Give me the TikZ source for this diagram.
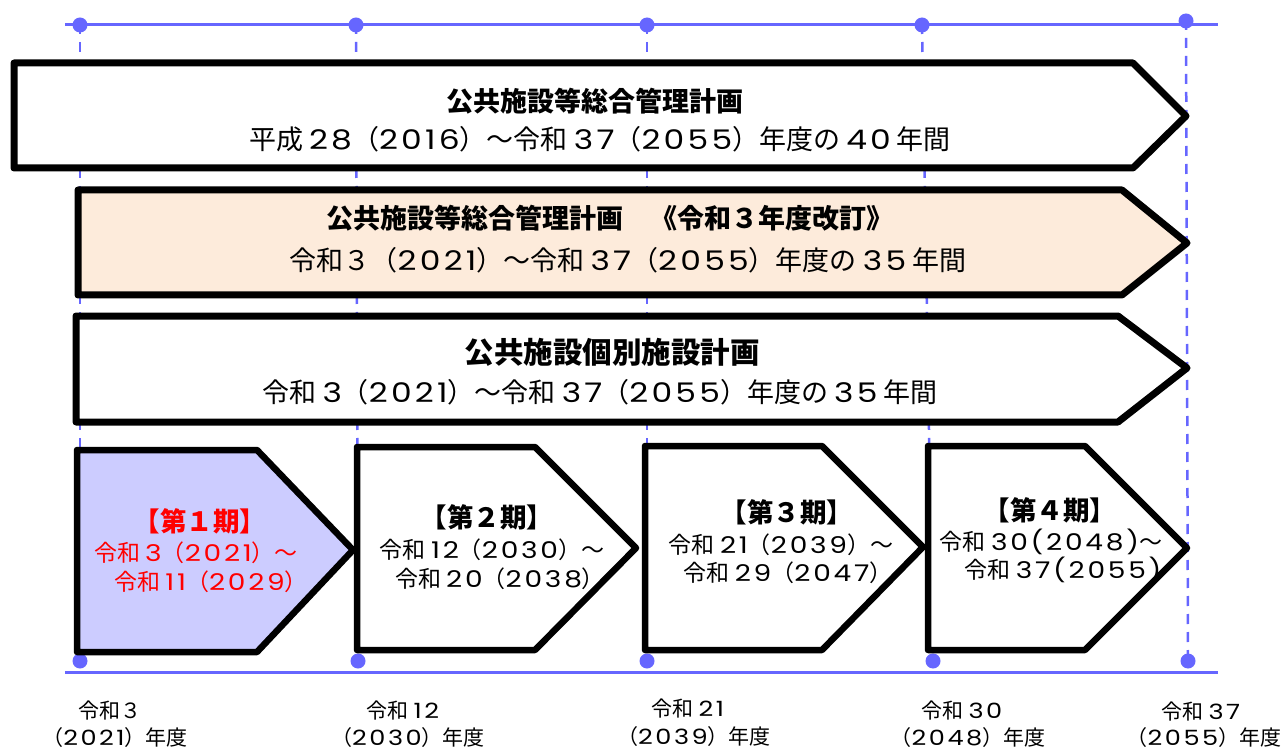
\documentclass[tikz,border=0pt]{standalone}
\usepackage{fontspec}
\setmainfont{Noto Sans CJK JP}
\newfontfamily\numfont[FakeStretch=1.22, LetterSpace=12]{Poppins}
\newcommand\nm[1]{{\numfont #1}}
\definecolor{tlblue}{HTML}{6666FF}
\definecolor{peach}{HTML}{FDEBDB}
\definecolor{lav}{HTML}{CCCCFF}
\definecolor{redtxt}{HTML}{FF0000}
\tikzset{
  bigbox/.style={draw=black, line width=7pt, line join=round, fill=white},
  phasebox/.style={draw=black, line width=6.5pt, line join=round, fill=white},
  tline/.style={draw=tlblue, line width=3pt},
  guide/.style={draw=tlblue, line width=2.5pt, dash pattern=on 10pt off 8pt, dash phase=-17pt},
  dot/.style={fill=tlblue},
  btitle/.style={inner sep=0pt, font=\fontsize{27}{30}\selectfont\bfseries},
  bline/.style={inner sep=0pt, font=\fontsize{27}{30}\selectfont},
  ptitle/.style={inner sep=0pt, font=\fontsize{26.5}{29}\selectfont\bfseries},
  pline/.style={inner sep=0pt, font=\fontsize{23}{26}\selectfont},
  ylabel/.style={inner sep=0pt, font=\fontsize{21}{24}\selectfont},
}
\begin{document}
\begin{tikzpicture}[x=1pt, y=-1pt]
\useasboundingbox (0,0) rectangle (1282,751);
% guide lines
\draw[guide] (80,25) -- (80,661);
\draw[guide] (356,25) -- (358,661);
\draw[guide] (647,25) -- (647,661);
\draw[guide] (922,25) -- (933,661);
\draw[guide] (1186,21) -- (1188,661);
% timelines
\draw[tline] (65,25) -- (1218,25);
\draw[tline] (65,672) -- (1218,672);
\foreach \x/\y in {80/25,356/25,647/25,922/25,1186/21}
  \fill[dot] (\x,\y) circle (7.5);
\foreach \x in {80,358,647,933,1188}
  \fill[dot] (\x,661) circle (7.5);
% big boxes
\draw[bigbox] (14,63) -- (1133,63) -- (1186,116) -- (1133,168) -- (14,168) -- cycle;
\draw[bigbox, fill=peach] (78,190) -- (1122,190) -- (1187,243) -- (1122,295) -- (78,295) -- cycle;
\draw[bigbox] (76,316) -- (1118,316) -- (1187,368) -- (1118,422) -- (76,422) -- cycle;
% phase boxes
\draw[phasebox, fill=lav] (77,450) -- (257,450) -- (353,550) -- (257,652) -- (77,652) -- cycle;
\draw[phasebox] (357,447) -- (535,447) -- (636,548) -- (535,650) -- (357,650) -- cycle;
\draw[phasebox] (645,446) -- (822,446) -- (923,547) -- (822,650) -- (645,650) -- cycle;
\draw[phasebox] (928,446) -- (1085,446) -- (1187,548) -- (1085,650) -- (928,650) -- cycle;
% big box texts
\node[btitle] (t1) at (595,101) {公共施設等総合管理計画};
\node[bline] (l1) at (600,139) {平成 \nm{28}（\nm{2016}）～令和 \nm{37}（\nm{2055}）年度の \nm{40} 年間};
\node[btitle] (t2) at (610,218) {公共施設等総合管理計画　《令和３年度改訂》};
\node[bline] (l2) at (628,260) {令和３（\nm{2021}）～令和 \nm{37}（\nm{2055}）年度の \nm{35} 年間};
\node[btitle, font=\fontsize{29.5}{32}\selectfont\bfseries] (t3) at (612,352) {公共施設個別施設計画};
\node[bline] (l3) at (600,392) {令和 \nm{3}（\nm{2021}）～令和 \nm{37}（\nm{2055}）年度の \nm{35} 年間};
% phase texts
\node[ptitle, text=redtxt] (p1t) at (200,521) {【第１期】};
\node[pline, text=redtxt] (p1a) at (196,553) {令和 \nm{3}（\nm{2021}）～};
\node[pline, text=redtxt] (p1b) at (211,582) {令和 \nm{11}（\nm{2029}）};
\node[ptitle] (p2t) at (487,517) {【第２期】};
\node[pline] (p2a) at (492,550) {令和 \nm{12}（\nm{2030}）～};
\node[pline] (p2b) at (500,579) {令和 \nm{20}（\nm{2038}）};
\node[ptitle] (p3t) at (787,512) {【第３期】};
\node[pline] (p3a) at (781,545) {令和 \nm{21}（\nm{2039}）～};
\node[pline] (p3b) at (788,573) {令和 \nm{29}（\nm{2047}）};
\node[ptitle] (p4t) at (1050,510) {【第４期】};
\node[pline] (p4a) at (1051,542) {令和 \nm{30(2048)}～};
\node[pline] (p4b) at (1063,570) {令和 \nm{37(2055)}};
% year labels
\node[ylabel] (y1a) at (110,711) {令和３};
\node[ylabel] (y1b) at (115,738) {（\nm{2021}）年度};
\node[ylabel] (y2a) at (403,711) {令和 \nm{12}};
\node[ylabel] (y2b) at (408,738) {（\nm{2030}）年度};
\node[ylabel] (y3a) at (688,709) {令和 \nm{21}};
\node[ylabel] (y3b) at (694,737) {（\nm{2039}）年度};
\node[ylabel] (y4a) at (962,711) {令和 \nm{30}};
\node[ylabel] (y4b) at (968,738) {（\nm{2048}）年度};
\node[ylabel] (y5a) at (1201,712) {令和 \nm{37}};
\node[ylabel] (y5b) at (1204,738) {（\nm{2055}）年度};
\end{tikzpicture}
\end{document}
